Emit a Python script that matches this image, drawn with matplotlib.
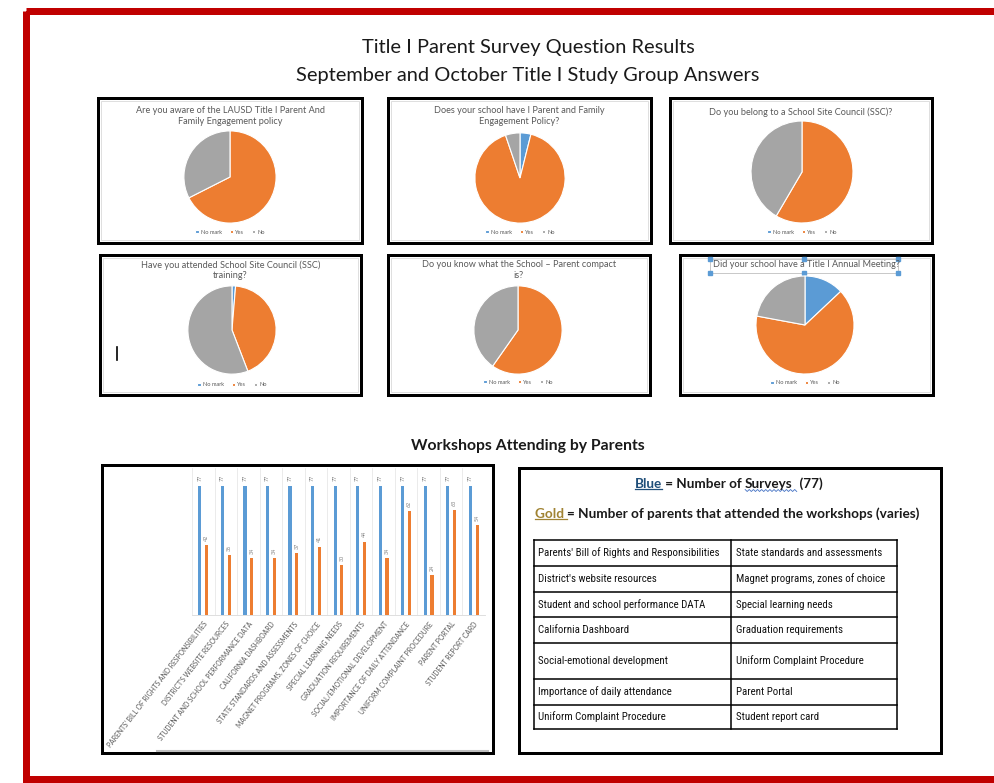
import numpy as np
import matplotlib
matplotlib.use("Agg")
from matplotlib import pyplot as plt
from matplotlib.patches import Rectangle

plt.rcParams['font.family'] = ['Lato', 'DejaVu Sans']

W, H = 994, 783

# pie data (counts out of 77 surveys)
pie_titles = [
    "Are you aware of the LAUSD Title I Parent And\nFamily Engagement policy",
    "Does your school have I Parent and Family\nEngagement Policy?",
    "Do you belong to a School Site Council (SSC)?",
    "Have you attended School Site Council (SSC)\ntraining?",
    "Do you know what the School \u2013 Parent compact\nis?",
    "Did your school have a Title I Annual Meeting?",
]
answers = ["No mark", "Yes", "No"]
no_mark = [0, 3, 0, 1, 0, 10]
yes = [52, 70, 45, 33, 46, 50]
no = [25, 4, 32, 43, 31, 17]
pie_colors = ["#5B9BD5", "#ED7D31", "#A5A5A5"]

# bar data
workshops = [
    "Parents' Bill of Rights and Responsibilities",
    "District's website resources",
    "Student and school performance data",
    "California Dashboard",
    "State standards and assessments",
    "Magnet programs, zones of choice",
    "Special learning needs",
    "Graduation requirements",
    "Social/emotional development",
    "Importance of daily attendance",
    "Uniform complaint procedure",
    "Parent portal",
    "Student report card",
]
surveys = [77] * 13
attended = [42, 36, 34, 34, 37, 41, 30, 44, 34, 62, 24, 63, 54]

# table text
table_left = ["Parents' Bill of Rights and Responsibilities", "District's website resources",
              "Student and school performance DATA", "California Dashboard",
              "Social-emotional development", "Importance of daily attendance",
              "Uniform Complaint Procedure"]
table_right = ["State standards and assessments", "Magnet programs, zones of choice",
               "Special learning needs", "Graduation requirements",
               "Uniform Complaint Procedure", "Parent Portal", "Student report card"]


def rect_px(x0, y0, x1, y1):
    return [x0 / W, 1 - y1 / H, (x1 - x0) / W, (y1 - y0) / H]


fig = plt.figure(figsize=(W / 100, H / 100), dpi=100)
bg = fig.add_axes([0, 0, 1, 1])
bg.set_xlim(0, W)
bg.set_ylim(H, 0)
bg.axis('off')

PT = 0.72  # points per pixel

# red page frame
bg.add_patch(Rectangle((26, 11), 1000, 768, fill=False, edgecolor="#C00000", lw=7 * PT))

# main title
bg.text(528, 48, "Title I Parent Survey Question Results", ha='center', va='center',
        fontsize=14.4, color="#1a1a1a")
bg.text(528, 75, "September and October Title I Study Group Answers", ha='center', va='center',
        fontsize=14.4, color="#1a1a1a")

# pie boxes
boxes = [(98, 98, 362, 243), (388, 98, 651, 243), (670, 98, 932, 243),
         (100, 255, 361, 395), (388, 255, 650, 395), (680, 255, 933, 395)]
centers = [(230, 177), (520, 178), (802, 172), (232, 330), (518, 330), (805, 325)]
radii = [47, 46, 52, 45, 45, 50]
title_y = [106, 106, 107, 260, 260, 260]
legend_y = [232, 232, 232, 385, 382, 383]

for i in range(6):
    x0, y0, x1, y1 = boxes[i]
    bg.add_patch(Rectangle((x0 + 3, y0 + 3), x1 - x0 - 6, y1 - y0 - 6, fill=False,
                           edgecolor="#D9D9D9", lw=0.6))
    bg.add_patch(Rectangle((x0, y0), x1 - x0, y1 - y0, fill=False, edgecolor="black", lw=3 * PT))
    bg.text((x0 + x1) / 2, title_y[i], pie_titles[i], ha='center', va='top', fontsize=6.6,
            color="#595959", linespacing=1.25)

    cx, cy = centers[i]
    r = radii[i]
    ax = fig.add_axes(rect_px(cx - r, cy - r, cx + r, cy + r))
    wedges, _ = ax.pie([no_mark[i], yes[i], no[i]], colors=pie_colors, startangle=90,
                       counterclock=False, radius=1,
                       wedgeprops=dict(edgecolor='white', linewidth=0.8))
    ax.set_xlim(-1.02, 1.02)
    ax.set_ylim(-1.02, 1.02)
    ax.axis('off')
    ax.legend(wedges, answers, loc='center', bbox_to_anchor=(cx, legend_y[i]),
              bbox_transform=bg.transData, ncol=3, fontsize=4.1, frameon=False,
              handlelength=0.6, handleheight=0.6, handletextpad=0.4, columnspacing=1.3,
              labelcolor="#595959")

# selected title box on last pie
bg.add_patch(Rectangle((710, 259), 188, 14, fill=False, edgecolor="#BFBFBF", lw=0.6))
for hx, hy in [(710, 259), (804, 259), (898, 259), (710, 273), (804, 273), (898, 273)]:
    bg.plot(hx, hy, marker='s', ms=2.2, color="#5B9BD5", mec="#5B9BD5")

# text cursor
bg.plot([117, 117], [347, 360], color="black", lw=1.2)

# workshops heading
bg.text(528, 446, "Workshops Attending by Parents", ha='center', va='center', fontsize=11.3,
        fontweight='bold', color="#1a1a1a")

# bar chart box
bg.add_patch(Rectangle((102, 465), 391, 288, fill=False, edgecolor="black", lw=3 * PT))
bg.plot([157, 488], [751, 751], color="#BFBFBF", lw=1.5)

bx = fig.add_axes(rect_px(192, 468, 485, 615))
x = np.arange(len(workshops))
bx.bar(x - 0.15, surveys, width=0.14, color="#5B9BD5")
bx.bar(x + 0.15, attended, width=0.14, color="#ED7D31")
for k in range(len(workshops) + 1):
    bx.axvline(k - 0.5, color="#E8E8E8", lw=0.6, zorder=0)
for xi, s, a in zip(x, surveys, attended):
    bx.annotate(str(s), (xi - 0.15, s), xytext=(0, 4), textcoords='offset points', ha='center',
                va='bottom', rotation=90, fontsize=3.9, color="#7F7F7F")
    bx.annotate(str(a), (xi + 0.15, a), xytext=(0, 3), textcoords='offset points', ha='center',
                va='bottom', rotation=90, fontsize=3.9, color="#7F7F7F")
bx.set_xlim(-0.5, len(workshops) - 0.5)
bx.set_ylim(0, 88)
bx.set_yticks([])
bx.set_xticks(x)
bx.set_xticklabels([w.upper() for w in workshops], rotation=52, ha='right',
                   rotation_mode='anchor', fontsize=4.9, color="#595959")
bx.tick_params(axis='x', length=0, pad=4)
for s in ['top', 'left', 'right']:
    bx.spines[s].set_visible(False)
bx.spines['bottom'].set_color("#D9D9D9")
bx.spines['bottom'].set_linewidth(0.6)

# legend / table box
bg.add_patch(Rectangle((519, 468), 422, 285, fill=False, edgecolor="black", lw=3 * PT))

renderer = fig.canvas.get_renderer()


def place_segments(x0, y, segments, size):
    # write pieces of one line left to right, return extents in pixel coords
    spans = []
    cur = x0
    for txt, col in segments:
        t = bg.text(cur, y, txt, ha='left', va='center', fontsize=size, fontweight='bold',
                    color=col)
        bb = t.get_window_extent(renderer)
        spans.append((bb.x0, bb.x1, H - bb.y0))
        cur = bb.x1
    return spans


sp = place_segments(635, 484, [("Blue", "#1F4E79"), (" = Number of ", "#1a1a1a"),
                               ("Surveys", "#1a1a1a"), ("  (77)", "#1a1a1a")], 9.7)
bg.plot([sp[0][0], sp[0][1]], [sp[0][2] - 1, sp[0][2] - 1], color="#1F4E79", lw=0.9)
wx = np.linspace(sp[2][0], sp[2][1] + 4, 26)
wy = sp[2][2] + np.where(np.arange(26) % 2 == 0, -0.5, 1.5)
bg.plot(wx, wy, color="#4472C4", lw=0.6)

sp = place_segments(535, 514, [("Gold ", "#A08333"),
                               ("= Number of parents that attended the workshops (varies)",
                                "#1a1a1a")], 9.8)
bg.plot([sp[0][0], sp[0][1]], [sp[0][2] - 1, sp[0][2] - 1], color="#A08333", lw=0.9)

# table
row_edges = [540, 566, 592, 617, 643, 679, 705, 729]
col_edges = [534, 731, 897]
for ry in row_edges:
    bg.plot([col_edges[0], col_edges[-1]], [ry, ry], color="black", lw=1.1)
for cxl in col_edges:
    bg.plot([cxl, cxl], [row_edges[0], row_edges[-1]], color="black", lw=1.1)
tfont = ['Liberation Sans Narrow', 'Roboto Condensed', 'DejaVu Sans']
for j in range(len(table_left)):
    ym = (row_edges[j] + row_edges[j + 1]) / 2
    bg.text(col_edges[0] + 4, ym, table_left[j], ha='left', va='center', fontsize=7.8,
            family=tfont, color="#111111")
    bg.text(col_edges[1] + 5, ym, table_right[j], ha='left', va='center', fontsize=7.8,
            family=tfont, color="#111111")

fig.savefig("out.png", dpi=100)
